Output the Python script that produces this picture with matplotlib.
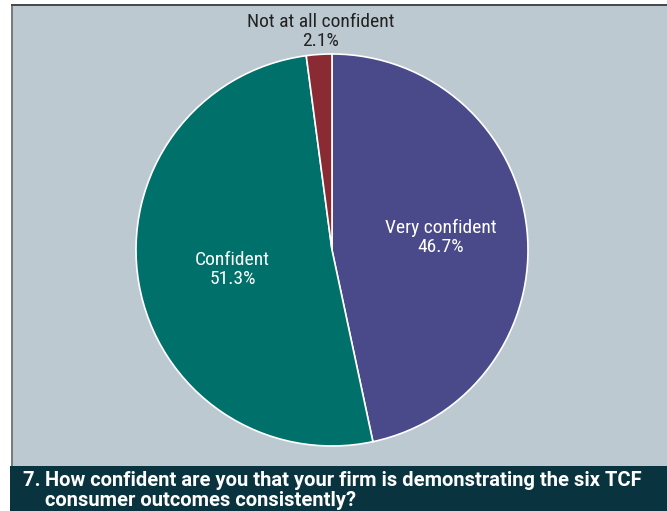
import matplotlib
matplotlib.use("Agg")
import matplotlib.pyplot as plt
from matplotlib.patches import Rectangle

# survey answers, clockwise from 12 o'clock
labels = ["Very confident", "Confident", "Not at all confident"]
shares = [46.7, 51.3, 2.1]
colors = ["#4a4a8a", "#00706a", "#8a2a32"]

q_num = "7. "
q_line1 = "How confident are you that your firm is demonstrating the six TCF"
q_line2 = "consumer outcomes consistently?"

plt.rcParams["font.family"] = ["Roboto Condensed", "DejaVu Sans"]

W, H = 667, 511
fig = plt.figure(figsize=(W / 100, H / 100), dpi=100)
fig.patch.set_facecolor("white")

# grey panel behind the pie, with its thin frame
fig.patches.append(Rectangle((12 / W, 45 / H), 1, 462 / H, transform=fig.transFigure,
                             facecolor="#bdc9d1", edgecolor="none", zorder=-3))
fig.patches.append(Rectangle((11 / W, 45 / H), 2 / W, 462 / H, transform=fig.transFigure,
                             facecolor="#7a7a7a", edgecolor="none", zorder=-2))
fig.patches.append(Rectangle((11 / W, 505 / H), 1, 2 / H, transform=fig.transFigure,
                             facecolor="#4a4a4a", edgecolor="none", zorder=-2))
# dark question banner
fig.patches.append(Rectangle((10 / W, 0), 1, 45 / H, transform=fig.transFigure,
                             facecolor="#0a3340", edgecolor="none", zorder=-2))

title_kw = dict(color="white", fontsize=14.5, fontweight="bold", va="baseline",
                ha="left", family=["Roboto", "DejaVu Sans"])
num = fig.text(23 / W, (H - 486) / H, q_num, **title_kw)
renderer = fig.canvas.get_renderer()
indent = num.get_window_extent(renderer).x1
fig.text(indent / W, (H - 486) / H, q_line1, **title_kw)
fig.text(indent / W, (H - 506) / H, q_line2, **title_kw)

cx, cy, r = 332, 250, 196
ax = fig.add_axes([(cx - r) / W, (H - cy - r) / H, 2 * r / W, 2 * r / H])
ax.set_zorder(2)
ax.patch.set_visible(False)
ax.pie(shares, colors=colors, startangle=90, counterclock=False, radius=1,
       wedgeprops=dict(edgecolor="white", linewidth=1.2))
ax.set_xlim(-1, 1)
ax.set_ylim(-1, 1)
ax.set_aspect("auto")
ax.axis("off")

pos = [(0.556, 0.064), (-0.508, -0.099), (-0.056, 1.115)]
txt_colors = ["white", "white", "#222222"]
for lab, val, (x, y), c in zip(labels, shares, pos, txt_colors):
    ax.text(x, y, f"{lab}\n{val}%", ha="center", va="center", color=c,
            fontsize=14, linespacing=1.05, clip_on=False)

fig.savefig("out.png", dpi=100)
